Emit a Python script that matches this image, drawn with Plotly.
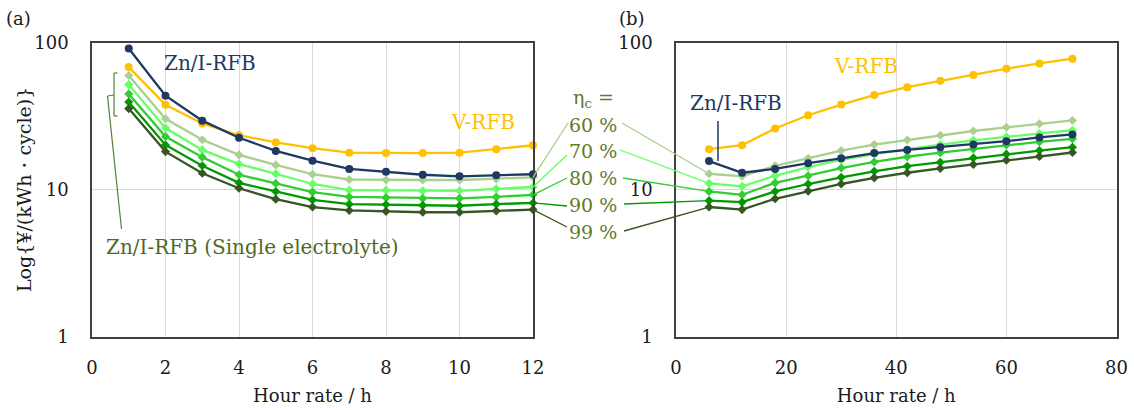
import math
import plotly.graph_objects as go

# ---- data -----------------------------------------------------------------
hours_a = [1, 2, 3, 4, 5, 6, 7, 8, 9, 10, 11, 12]
zni_a = [91, 43.5, 29.4, 22.5, 18.3, 15.7, 13.8, 13.2, 12.6, 12.3, 12.5, 12.7]
vrfb_a = [68, 37.7, 28.1, 23.4, 20.9, 19.1, 17.8, 17.7, 17.7, 17.8, 18.8, 20.0]
eta60_a = [59.6, 30.3, 21.8, 17.2, 14.7, 12.7, 11.7, 11.6, 11.6, 11.6, 11.8, 12.1]
eta70_a = [51.7, 26.2, 18.6, 14.9, 12.8, 10.9, 9.9, 9.9, 9.8, 9.8, 10.1, 10.4]
eta80_a = [44.7, 22.9, 16.6, 12.6, 11.0, 9.6, 8.9, 8.8, 8.7, 8.7, 8.9, 9.2]
eta90_a = [39.4, 20.1, 14.5, 11.1, 9.7, 8.5, 7.95, 7.9, 7.8, 7.75, 7.95, 8.1]
eta99_a = [35.5, 18.1, 12.9, 10.2, 8.6, 7.6, 7.2, 7.1, 7.0, 7.0, 7.15, 7.3]

hours_b = [6, 12, 18, 24, 30, 36, 42, 48, 54, 60, 66, 72]
zni_b = [15.6, 13.0, 13.8, 15.1, 16.3, 17.7, 18.6, 19.4, 20.2, 21.3, 22.6, 23.7]
vrfb_b = [18.8, 20.0, 26.0, 32.0, 37.8, 43.9, 49.7, 54.9, 60.2, 66.4, 72.1, 77.6]
eta60_b = [12.8, 12.3, 14.5, 16.3, 18.4, 20.2, 21.7, 23.4, 25.0, 26.5, 28.0, 29.5]
eta70_b = [11.0, 10.5, 12.4, 14.2, 15.9, 17.4, 18.8, 20.2, 21.6, 22.8, 24.0, 25.3]
eta80_b = [9.7, 9.2, 11.1, 12.4, 14.0, 15.4, 16.7, 17.8, 18.9, 20.1, 21.1, 22.1]
eta90_b = [8.4, 8.2, 9.7, 10.9, 12.1, 13.3, 14.4, 15.3, 16.4, 17.4, 18.4, 19.4]
eta99_b = [7.6, 7.3, 8.65, 9.75, 10.9, 12.0, 13.0, 13.9, 14.8, 15.8, 16.8, 17.85]

eta_labels = ["60 %", "70 %", "80 %", "90 %", "99 %"]
x_ticks_a = [0, 2, 4, 6, 8, 10, 12]
x_ticks_b = [0, 20, 40, 60, 80]
y_ticks = [1, 10, 100]

# ---- styling --------------------------------------------------------------
W, H = 1134, 410
FONT = "DejaVu Serif"
NAVY = "#203864"
ORANGE = "#FFC000"
GREENS = ["#A9D08E", "#66FF66", "#33CC33", "#009900", "#375623"]
LABEL_GREEN = "#617A26"
SINGLE_GREEN = "#4F6A1F"
AXIS_LINE = "#404040"
GRID = "#D9D9D9"

# subplot frames in pixels (left, right, top, bottom)
XA = (92, 533)
XB = (676, 1116.5)
YT, YB = 42.5, 336.5
XA_RANGE = (0, 12)
XB_RANGE = (0, 80)
LOG_RANGE = (0, 2)


def px(x):
    return x / W


def py(y):
    return 1 - y / H


def paper_from_data(x, y, frame, xrange):
    """Position of a data point (log-y axis) in paper fractions."""
    fx = frame[0] + (x - xrange[0]) / (xrange[1] - xrange[0]) * (frame[1] - frame[0])
    fy = YB - (math.log10(y) - LOG_RANGE[0]) / (LOG_RANGE[1] - LOG_RANGE[0]) * (YB - YT)
    return px(fx), py(fy)


fig = go.Figure()

series_a = [eta60_a, eta70_a, eta80_a, eta90_a, eta99_a]
series_b = [eta60_b, eta70_b, eta80_b, eta90_b, eta99_b]

for xs, ys_v, ys_g, ys_z, xr, yr in [
    (hours_a, vrfb_a, series_a, zni_a, "x", "y"),
    (hours_b, vrfb_b, series_b, zni_b, "x2", "y2"),
]:
    fig.add_trace(go.Scatter(
        x=xs, y=ys_v, xaxis=xr, yaxis=yr, mode="lines+markers",
        line=dict(color=ORANGE, width=2.3),
        marker=dict(symbol="circle", size=8, color=ORANGE),
        showlegend=False, cliponaxis=False))
    for ys, col in zip(ys_g, GREENS):
        fig.add_trace(go.Scatter(
            x=xs, y=ys, xaxis=xr, yaxis=yr, mode="lines+markers",
            line=dict(color=col, width=2.3),
            marker=dict(symbol="diamond", size=7, color=col),
            showlegend=False, cliponaxis=False))
    fig.add_trace(go.Scatter(
        x=xs, y=ys_z, xaxis=xr, yaxis=yr, mode="lines+markers",
        line=dict(color=NAVY, width=2.3),
        marker=dict(symbol="circle", size=8, color=NAVY),
        showlegend=False, cliponaxis=False))

axis_common = dict(
    showline=True, linecolor=AXIS_LINE, linewidth=1.5, mirror=True,
    showgrid=True, gridcolor=GRID, gridwidth=1, zeroline=False,
    ticks="", tickfont=dict(family=FONT, size=18, color="#1a1a1a"),
    automargin=False,
)
x_title = dict(text="Hour rate / h", font=dict(family=FONT, size=18), standoff=13)

fig.update_layout(
    width=W, height=H,
    margin=dict(l=0, r=0, t=0, b=0),
    paper_bgcolor="white", plot_bgcolor="white",
    font=dict(family=FONT, color="#1a1a1a"),
    xaxis=dict(domain=[px(XA[0]), px(XA[1])], range=list(XA_RANGE), tickvals=x_ticks_a,
               ticklabelstandoff=14, anchor="y", title=x_title, **axis_common),
    yaxis=dict(domain=[py(YB), py(YT)], type="log", range=list(LOG_RANGE), tickvals=y_ticks,
               ticktext=[str(v) for v in y_ticks], ticklabelstandoff=18, anchor="x",
               **axis_common),
    xaxis2=dict(domain=[px(XB[0]), px(XB[1])], range=list(XB_RANGE), tickvals=x_ticks_b,
                ticklabelstandoff=14, anchor="y2", title=x_title, **axis_common),
    yaxis2=dict(domain=[py(YB), py(YT)], type="log", range=list(LOG_RANGE), tickvals=y_ticks,
                ticktext=[str(v) for v in y_ticks], ticklabelstandoff=18, anchor="x2",
                **axis_common),
)

annotations = []


def text_note(x, y, text, color, size, **kw):
    annotations.append(dict(
        x=px(x), y=py(y), xref="paper", yref="paper", text=text, showarrow=False,
        font=dict(family=FONT, size=size, color=color), xanchor="center",
        yanchor="middle", **kw))


text_note(18, 18, "(a)", "#1a1a1a", 18)
text_note(632, 18, "(b)", "#1a1a1a", 18)
text_note(24, 190, "Log{¥/(kWh・cycle)}", "#1a1a1a", 19, textangle=-90)
text_note(210, 63, "Zn/I-RFB", NAVY, 20)
text_note(483, 122, "V-RFB", ORANGE, 20)
text_note(252, 247, "Zn/I-RFB (Single electrolyte)", SINGLE_GREEN, 20)
text_note(866, 66, "V-RFB", ORANGE, 20)
text_note(736, 103, "Zn/I-RFB", NAVY, 20)
text_note(593, 98, "η<sub>c</sub> =", LABEL_GREEN, 19)

label_y = [125, 151, 178, 205, 232]
for lab, yy in zip(eta_labels, label_y):
    text_note(593, yy, lab, LABEL_GREEN, 19)

fig.update_layout(annotations=annotations)

shapes = []

# leader lines from the efficiency labels to the series ends of both panels
left_tails = [(568, 123), (567, 155), (567, 178), (567, 206), (567, 227)]
right_tails = [(622, 123), (620, 150), (623, 178), (624, 204), (624, 231)]
for ys_a, ys_b, col, lt, rt in zip(series_a, series_b, GREENS, left_tails, right_tails):
    ex, ey = paper_from_data(hours_a[-1], ys_a[-1], XA, XA_RANGE)
    shapes.append(dict(type="line", xref="paper", yref="paper",
                       x0=ex, y0=ey, x1=px(lt[0]), y1=py(lt[1]),
                       line=dict(color=col, width=1.3)))
    sx, sy = paper_from_data(hours_b[0], ys_b[0], XB, XB_RANGE)
    shapes.append(dict(type="line", xref="paper", yref="paper",
                       x0=px(rt[0]), y0=py(rt[1]), x1=sx, y1=sy,
                       line=dict(color=col, width=1.3)))

# bracket grouping the single-electrolyte curves plus its pointer line
BR = "#548235"
bracket = [
    ((114, 73), (114, 116)),
    ((114, 73), (117.5, 73)),
    ((114, 116), (117.5, 116)),
    ((114, 95), (107.5, 96)),
    ((107.5, 96), (121.5, 229)),
]
for (x0, y0), (x1, y1) in bracket:
    shapes.append(dict(type="line", xref="paper", yref="paper",
                       x0=px(x0), y0=py(y0), x1=px(x1), y1=py(y1),
                       line=dict(color=BR, width=1.2)))

# pointer for the Zn/I-RFB label in panel (b)
shapes.append(dict(type="line", xref="paper", yref="paper", x0=px(718), y0=py(121),
                   x1=px(718), y1=py(161), line=dict(color=NAVY, width=1.5)))
fig.update_layout(shapes=shapes)

fig.write_html("out.html")
